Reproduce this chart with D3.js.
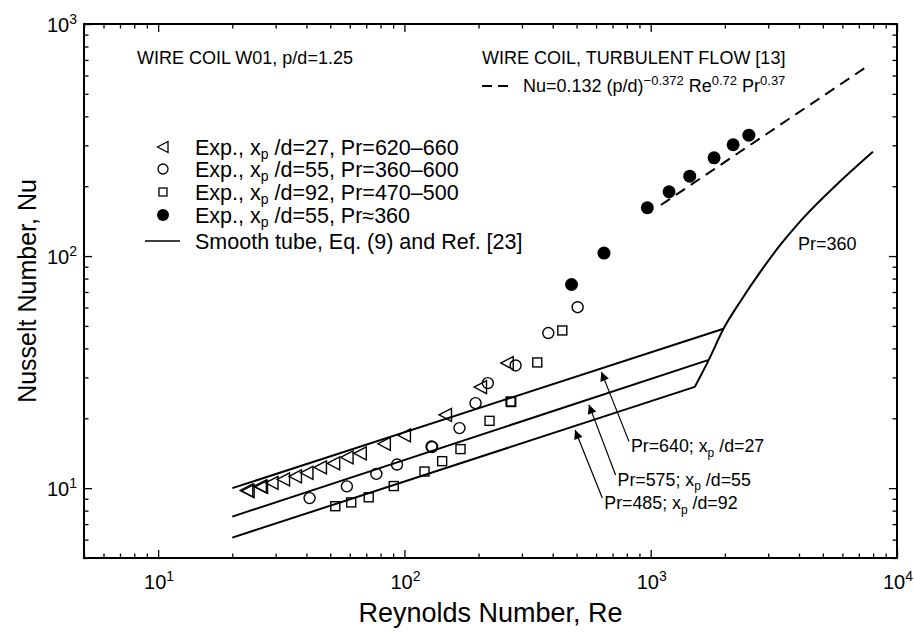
<!DOCTYPE html>
<html><head><meta charset="utf-8">
<script src="https://cdn.jsdelivr.net/npm/d3@7"></script>
<style>
body{margin:0;background:#fff}
svg{display:block}
text{font-family:"Liberation Sans",Arial,Helvetica,sans-serif;fill:#000}
</style>
</head><body>
<svg id="c" width="914" height="633"></svg>
<script>
// ---------------- data ----------------
const xDomain = [5, 10000];
const yDomain = [5, 1000];
const xMajorTicks = [10, 100, 1000, 10000];
const xMajorExp = ["1", "2", "3", "4"];
const yMajorTicks = [10, 100, 1000];
const yMajorExp = ["1", "2", "3"];

// Exp., xp/d=27, Pr=620-660 (open left triangles)
const triRe = [22.9, 23.2, 26.0, 26.3, 29.0, 32.3, 36.1, 40.2, 45.6, 51.6, 58.5, 66.2, 82.9, 100, 146.8, 203.7, 261.5];
const triNu = [9.78, 9.72, 10.18, 10.12, 10.54, 10.91, 11.24, 11.64, 12.29, 12.79, 13.58, 14.13, 15.52, 16.89, 20.7, 27.25, 34.6];
// Exp., xp/d=55, Pr=360-600 (open circles)
const cirRe = [41.2, 58.4, 76.9, 93.3, 128.8, 129.6, 167.3, 194.4, 218.1, 282.7, 383.8, 505];
const cirNu = [9.06, 10.18, 11.52, 12.64, 15.11, 15.05, 18.14, 23.24, 28.36, 33.77, 46.6, 60.2];
// Exp., xp/d=92, Pr=470-500 (open squares)
const sqRe = [52.4, 60.8, 71.6, 90.5, 120.6, 142.3, 168.9, 221.6, 269.8, 271.4, 346.3, 437.5];
const sqNu = [8.36, 8.68, 9.13, 10.21, 11.79, 13.07, 14.73, 19.5, 23.62, 23.5, 34.8, 47.8];
// Exp., xp/d=55, Pr~360 (filled circles)
const fillRe = [477, 646, 969, 1187, 1440, 1808, 2161, 2503];
const fillNu = [75.4, 103, 161.5, 189.3, 221, 265, 301.8, 332];

// Smooth tube, laminar lines (Re, Nu end points)
const tubeRe = [[20, 1975], [20, 1721], [20, 1510]];
const tubeNu = [[10.0, 48.6], [7.54, 35.7], [6.12, 27.3]];
// Smooth tube, Pr=360 transition/turbulent curve
const turbRe = [1510, 1721, 1975, 2322, 2800, 3377, 4072, 5922, 7987];
const turbNu = [27.3, 35.7, 48.6, 64.2, 86.1, 112.5, 142.2, 211.5, 281.6];
// Wire coil turbulent correlation [13]
const corrRe = [1100, 7700];
const corrNu = [166, 665];

// Arrow annotations
const annTipRe = [630, 561, 493];
const annTipNu = [31.7, 22.9, 17.8];
const annTailRe = [816, 720, 636];
const annTailNu = [15.9, 11.4, 9.06];
const annPr = ["Pr=640; x", "Pr=575; x", "Pr=485; x"];
const annXpd = ["/d=27", "/d=55", "/d=92"];
const pr360Label = {re: 3960, nu: 106, text: "Pr=360"};

// ---------------- drawing ----------------
const svg = d3.select("#c");
const L = 84, R = 897, T = 24, B = 558;
const x = d3.scaleLog().domain(xDomain).range([L, R]);
const y = d3.scaleLog().domain(yDomain).range([B, T]);

function minorTicks(dom) {
  const out = [];
  for (let e = 0; e <= 4; e++) {
    for (let m = 2; m <= 9; m++) {
      const v = m * Math.pow(10, e);
      if (v >= dom[0] && v <= dom[1]) out.push(v);
    }
  }
  return out;
}
const xMinor = minorTicks(xDomain), yMinor = minorTicks(yDomain);

function addAxis(gen, transform, vals, size) {
  const g = svg.append("g").attr("transform", transform)
    .call(gen.tickValues(vals).tickSize(size).tickFormat(""));
  g.select(".domain").remove();
  g.selectAll(".tick line").attr("stroke", "#000").attr("stroke-width", 1.3);
  g.selectAll("text").remove();
}
addAxis(d3.axisBottom(x), `translate(0,${B})`, xMinor, -4.5);
addAxis(d3.axisBottom(x), `translate(0,${B})`, xMajorTicks, -8);
addAxis(d3.axisTop(x), `translate(0,${T})`, xMinor, -4.5);
addAxis(d3.axisTop(x), `translate(0,${T})`, xMajorTicks, -8);
addAxis(d3.axisLeft(y), `translate(${L},0)`, yMinor, -4.5);
addAxis(d3.axisLeft(y), `translate(${L},0)`, yMajorTicks, -8);
addAxis(d3.axisRight(y), `translate(${R},0)`, yMinor, -4.5);
addAxis(d3.axisRight(y), `translate(${R},0)`, yMajorTicks, -8);

svg.append("rect").attr("x", L).attr("y", T).attr("width", R - L).attr("height", B - T)
  .attr("fill", "none").attr("stroke", "#000").attr("stroke-width", 2);

// rich text helper: segs = [[text, 'sup'|'sub'|null], ...]
function rich(sel, segs, base, supSize, supShift, subSize, subShift) {
  let cur = 0;
  segs.forEach(([t, kind]) => {
    const ts = sel.append("tspan").text(t);
    let target = 0, fs = base;
    if (kind === "sup") { target = -supShift; fs = supSize; }
    if (kind === "sub") { target = subShift; fs = subSize; }
    ts.attr("dy", target - cur).style("font-size", fs + "px");
    cur = target;
  });
}

// tick labels
xMajorTicks.forEach((v, i) => {
  const t = svg.append("text").attr("x", x(v) + 1).attr("y", 589).attr("text-anchor", "middle");
  rich(t, [["10", null], [xMajorExp[i], "sup"]], 20, 14, 8);
});
yMajorTicks.forEach((v, i) => {
  const t = svg.append("text").attr("x", 77).attr("y", y(v) + 7.5).attr("text-anchor", "end");
  rich(t, [["10", null], [yMajorExp[i], "sup"]], 20, 14, 8);
});

// axis titles
svg.append("text").attr("x", (L + R) / 2).attr("y", 622).attr("text-anchor", "middle")
  .style("font-size", "27px").text("Reynolds Number, Re");
svg.append("text").attr("transform", `translate(36,${(T + B) / 2}) rotate(-90)`)
  .attr("text-anchor", "middle").style("font-size", "25px").text("Nusselt Number, Nu");

// lines
const line = d3.line().x(d => x(d[0])).y(d => y(d[1]));
tubeRe.forEach((re, i) => {
  svg.append("path").attr("d", line(re.map((r, j) => [r, tubeNu[i][j]])))
    .attr("fill", "none").attr("stroke", "#000").attr("stroke-width", 2);
});
svg.append("path")
  .attr("d", d3.line().x(d => x(d[0])).y(d => y(d[1])).curve(d3.curveMonotoneX)(turbRe.map((r, j) => [r, turbNu[j]])))
  .attr("fill", "none").attr("stroke", "#000").attr("stroke-width", 2);
svg.append("path").attr("d", line(corrRe.map((r, j) => [r, corrNu[j]])))
  .attr("fill", "none").attr("stroke", "#000").attr("stroke-width", 2).attr("stroke-dasharray", "11,7");

// markers
const triPath = "M-6.5,0L6,-6.5L6,6.5Z";
triRe.forEach((r, i) => svg.append("path").attr("d", triPath)
  .attr("transform", `translate(${x(r)},${y(triNu[i])})`)
  .attr("fill", "none").attr("stroke", "#000").attr("stroke-width", 1.4));
cirRe.forEach((r, i) => svg.append("circle").attr("cx", x(r)).attr("cy", y(cirNu[i])).attr("r", 5.5)
  .attr("fill", "none").attr("stroke", "#000").attr("stroke-width", 1.4));
sqRe.forEach((r, i) => svg.append("rect").attr("x", x(r) - 4.5).attr("y", y(sqNu[i]) - 4.5)
  .attr("width", 9).attr("height", 9)
  .attr("fill", "none").attr("stroke", "#000").attr("stroke-width", 1.4));
fillRe.forEach((r, i) => svg.append("circle").attr("cx", x(r)).attr("cy", y(fillNu[i])).attr("r", 6.5)
  .attr("fill", "#000"));

// arrows
svg.append("defs").append("marker").attr("id", "ah").attr("viewBox", "0 0 10 10")
  .attr("refX", 10).attr("refY", 5).attr("markerWidth", 14).attr("markerHeight", 9)
  .attr("markerUnits", "userSpaceOnUse").attr("orient", "auto")
  .append("path").attr("d", "M0,0L10,5L0,10Z").attr("fill", "#000");
annTipRe.forEach((r, i) => {
  const x1 = x(annTailRe[i]), y1 = y(annTailNu[i]), x2 = x(r), y2 = y(annTipNu[i]);
  svg.append("line").attr("x1", x1).attr("y1", y1).attr("x2", x2).attr("y2", y2)
    .attr("stroke", "#000").attr("stroke-width", 1.2).attr("marker-end", "url(#ah)");
  const t = svg.append("text").attr("x", x1 + 2).attr("y", y1 + 11);
  rich(t, [[annPr[i], null], ["p", "sub"], [" " + annXpd[i], null]], 17.8, 12, 0, 12, 4.5);
});
svg.append("text").attr("x", x(pr360Label.re)).attr("y", y(pr360Label.nu))
  .style("font-size", "18px").text(pr360Label.text);

// top annotations
svg.append("text").attr("x", 137).attr("y", 64).style("font-size", "18px").text("WIRE COIL W01, p/d=1.25");
svg.append("text").attr("x", 482).attr("y", 64).style("font-size", "18px").text("WIRE COIL, TURBULENT FLOW [13]");
svg.append("line").attr("x1", 482).attr("x2", 508).attr("y1", 86).attr("y2", 86)
  .attr("stroke", "#000").attr("stroke-width", 2).attr("stroke-dasharray", "10,6");
{
  const t = svg.append("text").attr("x", 523).attr("y", 92);
  rich(t, [["Nu=0.132 (p/d)", null], ["\u22120.372", "sup"], [" Re", null], ["0.72", "sup"], [" Pr", null], ["0.37", "sup"]], 18, 13, 7.5);
}

// legend
const legendRows = [
  {kind: "tri", y: 147, segs: [["Exp., x", null], ["p", "sub"], [" /d=27, Pr=620\u2013660", null]]},
  {kind: "cir", y: 169, segs: [["Exp., x", null], ["p", "sub"], [" /d=55, Pr=360\u2013600", null]]},
  {kind: "sq", y: 192, segs: [["Exp., x", null], ["p", "sub"], [" /d=92, Pr=470\u2013500", null]]},
  {kind: "fill", y: 215, segs: [["Exp., x", null], ["p", "sub"], [" /d=55, Pr\u2248360", null]]},
  {kind: "line", y: 241, segs: [["Smooth tube, Eq. (9) and Ref. [23]", null]]}
];
const lx = 163;
legendRows.forEach(row => {
  if (row.kind === "tri") svg.append("path").attr("d", "M-5.5,0L5,-5.5L5,5.5Z").attr("transform", `translate(${lx},${row.y})`)
    .attr("fill", "none").attr("stroke", "#000").attr("stroke-width", 1.3);
  if (row.kind === "cir") svg.append("circle").attr("cx", lx).attr("cy", row.y).attr("r", 5)
    .attr("fill", "none").attr("stroke", "#000").attr("stroke-width", 1.3);
  if (row.kind === "sq") svg.append("rect").attr("x", lx - 4).attr("y", row.y - 4).attr("width", 8).attr("height", 8)
    .attr("fill", "none").attr("stroke", "#000").attr("stroke-width", 1.3);
  if (row.kind === "fill") svg.append("circle").attr("cx", lx).attr("cy", row.y).attr("r", 6).attr("fill", "#000");
  if (row.kind === "line") svg.append("line").attr("x1", 145).attr("x2", 180).attr("y1", row.y).attr("y2", row.y)
    .attr("stroke", "#000").attr("stroke-width", 1.5);
  const t = svg.append("text").attr("x", 195).attr("y", row.y + 7.5);
  rich(t, row.segs, 21.5, 14, 0, 14, 4.5);
});
</script>
</body></html>
